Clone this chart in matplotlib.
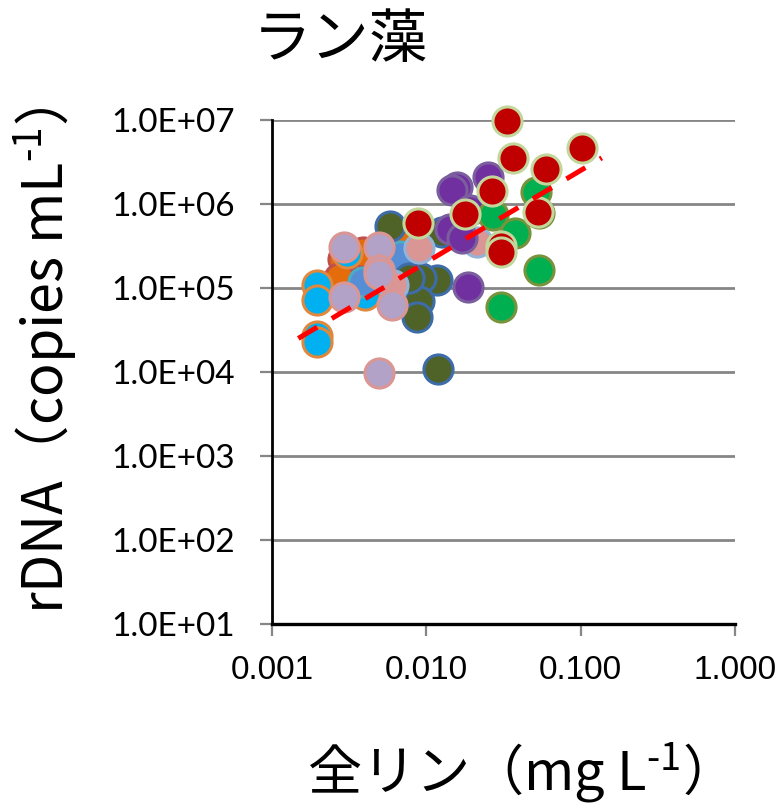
import numpy as np
import matplotlib
matplotlib.use('Agg')
import matplotlib.pyplot as plt
from matplotlib.ticker import FixedLocator, FuncFormatter, NullLocator

plt.rcParams['font.family'] = ['Noto Sans CJK JP', 'DejaVu Sans']
plt.rcParams['mathtext.fontset'] = 'custom'
plt.rcParams['mathtext.rm'] = 'Noto Sans CJK JP'
plt.rcParams['mathtext.default'] = 'regular'

# ======================== Data ========================
TITLE = 'ラン藻'
XLABEL = '全リン（mg L$^{\\text{-}1}$）'
YLABEL = 'rDNA（copies mL$^{\\text{-}1}$）'

X_TICKS = [0.001, 0.01, 0.1, 1.0]
Y_TICKS = [1e1, 1e2, 1e3, 1e4, 1e5, 1e6, 1e7]

# groups drawn back to front: (fill, edge)
orange_x = [0.0029, 0.0039, 0.0073, 0.0027]
orange_y = [2.2e5, 2.7e5, 4.4e5, 1.3e5]

cyan_x = [0.00195, 0.00195, 0.00195, 0.00195, 0.0040, 0.00305]
cyan_y = [1.09e5, 7.2e4, 2.7e4, 2.3e4, 8.3e4, 2.6e5]

lblue_x = [0.0068, 0.0039]
lblue_y = [2.4e5, 1.19e5]

olive_x = [0.00582, 0.0126, 0.0117, 0.0093, 0.0089, 0.0087, 0.0119, 0.0077]
olive_y = [5.4e5, 4.7e5, 1.25e5, 1.3e5, 7.0e4, 4.5e4, 1.1e4, 1.3e5]

pink_x = [0.0089, 0.0214, 0.0061]
pink_y = [3.0e5, 3.56e5, 1.09e5]

lav_x = [0.00293, 0.00494, 0.00494, 0.0049, 0.00293, 0.0060, 0.00494]
lav_y = [3.1e5, 3.1e5, 1.64e5, 1.45e5, 7.9e4, 6.2e4, 9.8e3]

purple_x = [0.0252, 0.0157, 0.0146, 0.0192, 0.0143, 0.0169, 0.0187]
purple_y = [2.1e6, 1.6e6, 1.47e6, 8.5e5, 5.1e5, 3.9e5, 1.03e5]

green_x = [0.0516, 0.0271, 0.0376, 0.054, 0.054, 0.0305]
green_y = [1.4e6, 7.4e5, 4.5e5, 7.8e5, 1.64e5, 6.0e4]

red_x = [0.0335, 0.0366, 0.102, 0.0597, 0.0265, 0.0178, 0.0532, 0.0088, 0.0305, 0.0305]
red_y = [9.8e6, 3.5e6, 4.6e6, 2.6e6, 1.44e6, 7.7e5, 8.1e5, 6.0e5, 3.2e5, 2.7e5]

# power-law trend y = a * x^b
TREND_A = 3.11e7
TREND_B = 1.093
TREND_RANGE = [0.00148, 0.137]

groups = [
    (orange_x, orange_y, '#E46C0A', '#C0504D'),
    (cyan_x, cyan_y, '#00B0F0', '#E0893E'),
    (lblue_x, lblue_y, '#558ED5', '#4BACC6'),
    (olive_x, olive_y, '#4F6228', '#3E6CA8'),
    (pink_x, pink_y, '#D99694', '#95B3D7'),
    (lav_x, lav_y, '#B3A2C7', '#D99694'),
    (purple_x, purple_y, '#7030A0', '#7A5E9E'),
    (green_x, green_y, '#00B050', '#77933C'),
    (red_x, red_y, '#C00000', '#C3D69B'),
]

# ======================== Plot ========================
fig = plt.figure(figsize=(7.76, 8.06), dpi=100)
ax = fig.add_axes([272 / 776, 1 - 624 / 806, 463 / 776, 504 / 806])

ax.set_xscale('log')
ax.set_yscale('log')
ax.set_xlim(0.001, 1.0)
ax.set_ylim(1e1, 1e7)

for gx, gy, fc, ec in groups:
    ax.scatter(gx, gy, s=440, facecolor=fc, edgecolor=ec, linewidth=2.2,
               zorder=3, clip_on=False)

tx = np.array(TREND_RANGE)
ax.plot(tx, TREND_A * tx ** TREND_B, color='#FF0000', lw=3.6,
        dashes=(4.4, 3.4), solid_capstyle='butt', dash_capstyle='butt', zorder=4)

# grid + spines
ax.yaxis.grid(True, color='#868686', lw=2.0, zorder=0)
ax.xaxis.grid(False)
ax.set_axisbelow(True)
for side in ('top', 'right'):
    ax.spines[side].set_visible(False)
ax.spines['left'].set_linewidth(2.0)
ax.spines['left'].set_color('black')
ax.spines['bottom'].set_linewidth(2.4)
ax.spines['bottom'].set_color('black')

ax.xaxis.set_major_locator(FixedLocator(X_TICKS))
ax.xaxis.set_minor_locator(NullLocator())
ax.yaxis.set_major_locator(FixedLocator(Y_TICKS))
ax.yaxis.set_minor_locator(NullLocator())
ax.xaxis.set_major_formatter(FuncFormatter(lambda v, p: f'{v:.3f}'))
ax.yaxis.set_major_formatter(FuncFormatter(lambda v, p: f'{v:.1E}'))

ax.tick_params(axis='x', length=8.5, width=1.6, color='#868686', pad=14,
               labelsize=24, labelfontfamily='Liberation Sans')
ax.tick_params(axis='y', length=8.5, width=1.6, color='#868686', pad=18,
               labelsize=24, labelfontfamily='Lato')

fig.text(340 / 776, 1 - 40 / 806, TITLE, fontsize=42, ha='center', va='center')
fig.text(504 / 776, 1 - 772 / 806, XLABEL, fontsize=39, ha='center', va='center')
fig.text(45 / 776, 1 - 360 / 806, YLABEL, fontsize=40, ha='center', va='center',
         rotation=90)

fig.savefig('out.png', dpi=100)
